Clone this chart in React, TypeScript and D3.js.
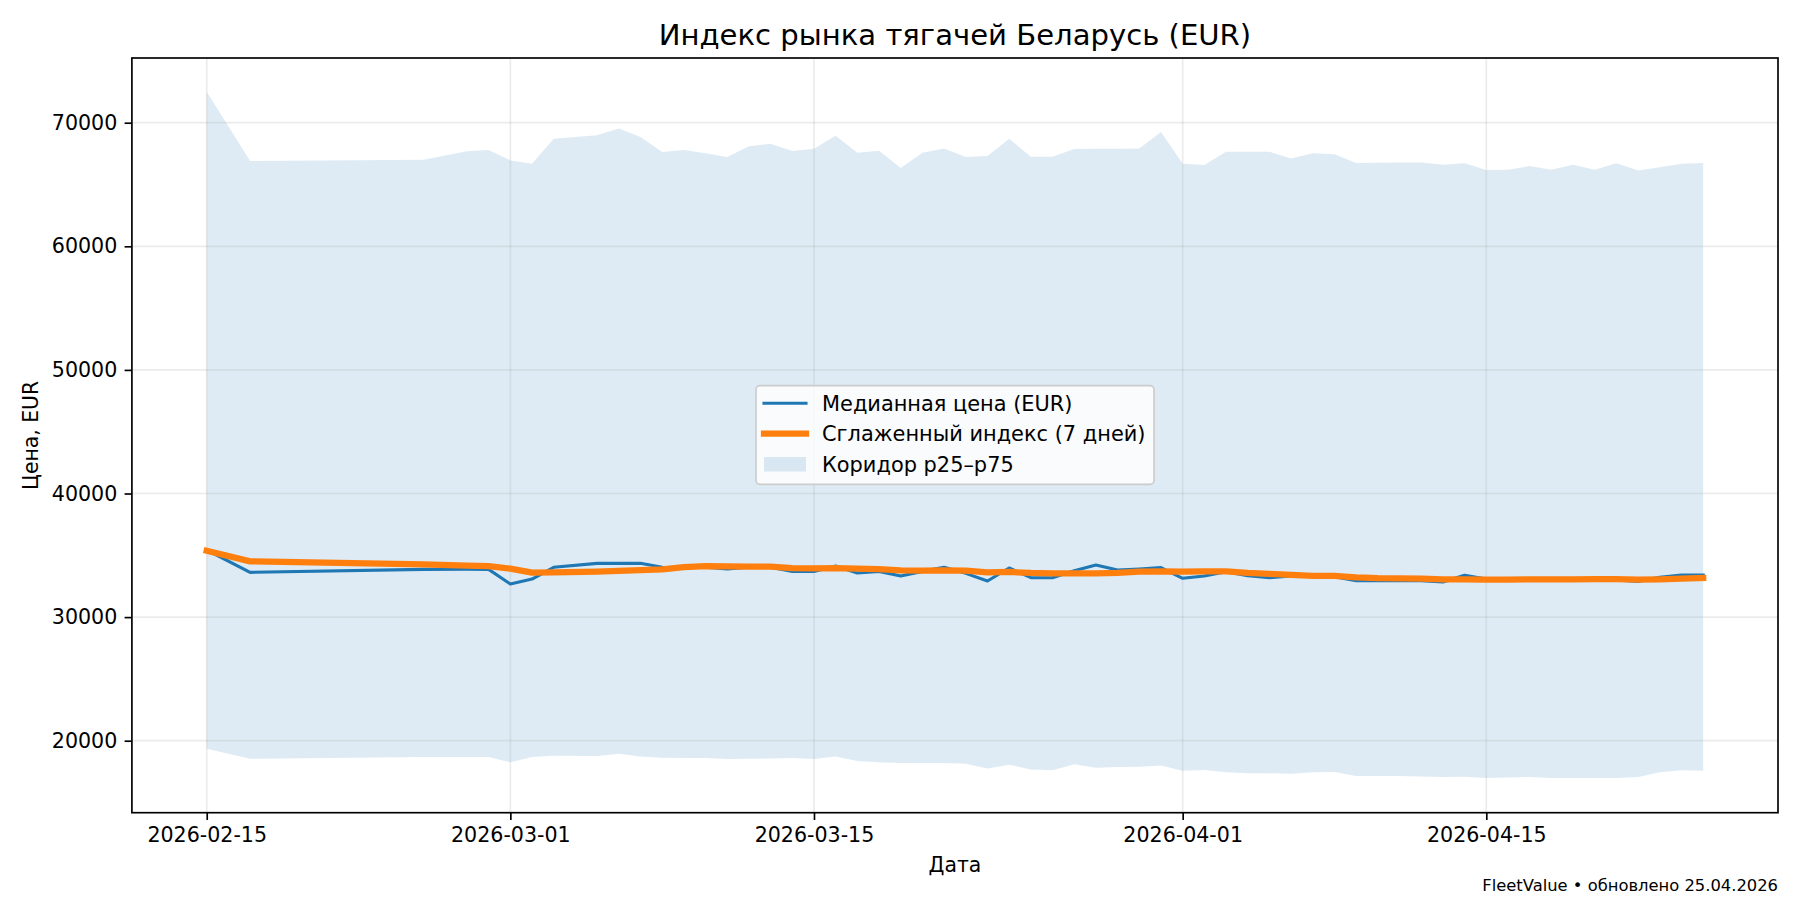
import React, { useEffect, useRef } from "react";
import * as d3 from "d3";

const dates = [
  "2026-02-15", "2026-02-17", "2026-02-25", "2026-02-27", "2026-02-28",
  "2026-03-01", "2026-03-02", "2026-03-03", "2026-03-05", "2026-03-06", "2026-03-07", "2026-03-08", "2026-03-09", "2026-03-10",
  "2026-03-11", "2026-03-12", "2026-03-13", "2026-03-14", "2026-03-15", "2026-03-16", "2026-03-17", "2026-03-18", "2026-03-19", "2026-03-20",
  "2026-03-21", "2026-03-22", "2026-03-23", "2026-03-24", "2026-03-25", "2026-03-26", "2026-03-27", "2026-03-28", "2026-03-29", "2026-03-30", "2026-03-31",
  "2026-04-01", "2026-04-02", "2026-04-03", "2026-04-04", "2026-04-05", "2026-04-06", "2026-04-07", "2026-04-08", "2026-04-09", "2026-04-10",
  "2026-04-11", "2026-04-12", "2026-04-13", "2026-04-14", "2026-04-15", "2026-04-16", "2026-04-17", "2026-04-18", "2026-04-19", "2026-04-20",
  "2026-04-21", "2026-04-22", "2026-04-23", "2026-04-24", "2026-04-25",
];

const p75 = [
  72500, 66900, 67000, 67700, 67790,
  66950, 66680, 68700, 68980, 69540, 68840, 67630, 67790, 67520,
  67220, 68090, 68300, 67710, 67900, 68950, 67570, 67730, 66330, 67570,
  67920, 67220, 67300, 68700, 67250, 67250, 67870, 67890, 67890, 67920, 69250,
  66680, 66580, 67650, 67650, 67650, 67110, 67520, 67440, 66740, 66760,
  66790, 66790, 66600, 66710, 66170, 66200, 66490, 66200, 66600, 66200,
  66710, 66140, 66390, 66680, 66740,
];

const p25 = [
  19350, 18540, 18680, 18680, 18680,
  18250, 18680, 18790, 18760, 18950, 18730, 18620, 18600, 18600,
  18520, 18540, 18570, 18600, 18520, 18730, 18350, 18250, 18190, 18190,
  18190, 18140, 17760, 18060, 17680, 17600, 18090, 17820, 17870, 17900, 18000,
  17570, 17630, 17440, 17360, 17360, 17330, 17440, 17470, 17140, 17140,
  17140, 17110, 17060, 17090, 16980, 17030, 17060, 16980, 16980, 16980,
  16980, 17060, 17440, 17600, 17570,
];

const median = [
  35430, 33620, 33860, 33870, 33860,
  32680, 33080, 34030, 34350, 34350, 34350, 34030, 34000, 34030,
  33890, 34030, 34030, 33700, 33700, 34130, 33570, 33700, 33330, 33700,
  34030, 33540, 32920, 33970, 33190, 33190, 33760, 34220, 33810, 33890, 34000,
  33140, 33330, 33680, 33350, 33190, 33330, 33350, 33270, 32950, 32950,
  32950, 32950, 32840, 33380, 33080, 33000, 33000, 33020, 33040, 33020,
  33000, 32890, 33220, 33400, 33400,
];

const smoothed = [
  35370, 34510, 34270, 34170, 34130,
  33920, 33600, 33620, 33680, 33740, 33810, 33860, 34050, 34130,
  34110, 34080, 34080, 33970, 33950, 33960, 33920, 33890, 33780, 33760,
  33780, 33760, 33620, 33650, 33570, 33540, 33540, 33540, 33570, 33680, 33700,
  33680, 33700, 33700, 33570, 33490, 33410, 33330, 33330, 33220, 33160,
  33140, 33110, 33060, 33060, 33030, 33030, 33050, 33060, 33060, 33070,
  33080, 33030, 33060, 33110, 33160,
];

const xTicks = ["2026-02-15", "2026-03-01", "2026-03-15", "2026-04-01", "2026-04-15"];
const yTicks = [20000, 30000, 40000, 50000, 60000, 70000];

const legendLabels = ["Медианная цена (EUR)", "Сглаженный индекс (7 дней)", "Коридор p25–p75"];

const BLUE = "#1f77b4";
const ORANGE = "#ff7f0e";
const FONT = "'DejaVu Sans', sans-serif";

const App: React.FC = () => {
  const svgRef = useRef<SVGSVGElement | null>(null);

  useEffect(() => {
    const width = 1800;
    const height = 900;
    const margin = { top: 58, right: 22, bottom: 87.3, left: 131.9 };
    const innerW = width - margin.left - margin.right;
    const innerH = height - margin.top - margin.bottom;

    const parse = d3.utcParse("%Y-%m-%d");
    const times = dates.map((d) => parse(d) as Date);
    const first = +times[0];
    const last = +times[times.length - 1];
    const pad = (last - first) * 0.05;

    const x = d3
      .scaleUtc()
      .domain([new Date(first - pad), new Date(last + pad)])
      .range([0, innerW]);
    const y = d3.scaleLinear().domain([14175, 75235]).range([innerH, 0]);

    const svg = d3.select(svgRef.current);
    svg.selectAll("*").remove();
    svg.attr("width", width).attr("height", height).style("font-family", FONT);

    svg.append("rect").attr("width", width).attr("height", height).attr("fill", "white");

    const g = svg.append("g").attr("transform", `translate(${margin.left},${margin.top})`);

    // band first, grid goes over it like in matplotlib
    const band = d3
      .area<number>()
      .x((_d, i) => x(times[i]))
      .y0((_d, i) => y(p25[i]))
      .y1((_d, i) => y(p75[i]));
    g.append("path").datum(p75).attr("d", band).attr("fill", BLUE).attr("fill-opacity", 0.15);

    const xTickDates = xTicks.map((d) => parse(d) as Date);
    g.selectAll("line.gx")
      .data(xTickDates)
      .enter()
      .append("line")
      .attr("x1", (d) => x(d))
      .attr("x2", (d) => x(d))
      .attr("y1", 0)
      .attr("y2", innerH)
      .attr("stroke", "#b0b0b0")
      .attr("stroke-opacity", 0.25)
      .attr("stroke-width", 1.67);
    g.selectAll("line.gy")
      .data(yTicks)
      .enter()
      .append("line")
      .attr("x1", 0)
      .attr("x2", innerW)
      .attr("y1", (d) => y(d))
      .attr("y2", (d) => y(d))
      .attr("stroke", "#b0b0b0")
      .attr("stroke-opacity", 0.25)
      .attr("stroke-width", 1.67);

    const line = d3
      .line<number>()
      .x((_d, i) => x(times[i]))
      .y((d) => y(d));
    g.append("path")
      .datum(median)
      .attr("d", line)
      .attr("fill", "none")
      .attr("stroke", BLUE)
      .attr("stroke-width", 3.1)
      .attr("stroke-linecap", "square")
      .attr("stroke-linejoin", "round");
    g.append("path")
      .datum(smoothed)
      .attr("d", line)
      .attr("fill", "none")
      .attr("stroke", ORANGE)
      .attr("stroke-width", 6.25)
      .attr("stroke-linecap", "square")
      .attr("stroke-linejoin", "round");

    const xAxis = g
      .append("g")
      .attr("transform", `translate(0,${innerH})`)
      .call(
        d3
          .axisBottom(x)
          .tickValues(xTickDates)
          .tickFormat((d) => d3.utcFormat("%Y-%m-%d")(d as Date))
          .tickSize(7.3)
          .tickPadding(7.3)
      );
    const yAxis = g
      .append("g")
      .call(
        d3
          .axisLeft(y)
          .tickValues(yTicks)
          .tickFormat((d) => String(d))
          .tickSize(7.3)
          .tickPadding(7.3)
      );
    [xAxis, yAxis].forEach((a) => {
      a.select(".domain").remove();
      a.selectAll(".tick line").attr("stroke", "#000").attr("stroke-width", 1.67);
      a.selectAll("text").attr("fill", "#000").style("font-size", "20.6px").style("font-family", FONT);
    });

    g.append("rect")
      .attr("width", innerW)
      .attr("height", innerH)
      .attr("fill", "none")
      .attr("stroke", "#000")
      .attr("stroke-width", 1.67);

    // legend
    const lg = svg.append("g");
    lg.append("rect")
      .attr("x", 756)
      .attr("y", 385.7)
      .attr("width", 398)
      .attr("height", 98.6)
      .attr("rx", 4)
      .attr("fill", "white")
      .attr("fill-opacity", 0.8)
      .attr("stroke", "#ccc")
      .attr("stroke-width", 1.67);
    lg.append("line")
      .attr("x1", 764)
      .attr("x2", 806)
      .attr("y1", 403.3)
      .attr("y2", 403.3)
      .attr("stroke", BLUE)
      .attr("stroke-width", 3.1)
      .attr("stroke-linecap", "square");
    lg.append("line")
      .attr("x1", 764)
      .attr("x2", 806)
      .attr("y1", 433.7)
      .attr("y2", 433.7)
      .attr("stroke", ORANGE)
      .attr("stroke-width", 6.25)
      .attr("stroke-linecap", "square");
    lg.append("rect")
      .attr("x", 764)
      .attr("y", 457)
      .attr("width", 42)
      .attr("height", 14.5)
      .attr("fill", BLUE)
      .attr("fill-opacity", 0.15);
    lg.selectAll("text")
      .data(legendLabels)
      .enter()
      .append("text")
      .attr("x", 822)
      .attr("y", (_d, i) => 410.8 + i * 30.4)
      .style("font-size", "20.9px")
      .attr("fill", "#000")
      .text((d) => d);

    svg
      .append("text")
      .attr("x", margin.left + innerW / 2)
      .attr("y", 45)
      .attr("text-anchor", "middle")
      .style("font-size", "29.1px")
      .text("Индекс рынка тягачей Беларусь (EUR)");
    svg
      .append("text")
      .attr("x", margin.left + innerW / 2)
      .attr("y", 872)
      .attr("text-anchor", "middle")
      .style("font-size", "20.4px")
      .text("Дата");
    svg
      .append("text")
      .attr("transform", `translate(38,${margin.top + innerH / 2}) rotate(-90)`)
      .attr("text-anchor", "middle")
      .style("font-size", "20.4px")
      .text("Цена, EUR");
    svg
      .append("text")
      .attr("x", 1778)
      .attr("y", 890.7)
      .attr("text-anchor", "end")
      .style("font-size", "16.35px")
      .text("FleetValue • обновлено 25.04.2026");
  }, []);

  return <svg ref={svgRef} style={{ position: "absolute", top: 0, left: 0, display: "block" }} />;
};

export default App;
